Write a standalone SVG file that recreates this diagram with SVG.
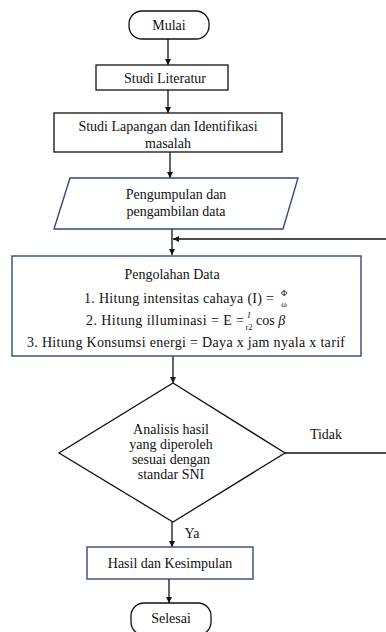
<svg xmlns="http://www.w3.org/2000/svg" width="386" height="632" viewBox="0 0 386 632">
<style>
text{font-family:"Liberation Serif","DejaVu Serif",serif;font-size:14px;fill:#111;text-anchor:middle}
.blk{fill:#fff;stroke:#111;stroke-width:1.3}
.blu{fill:#fff;stroke:#34497A;stroke-width:1.4}
.ln{fill:none;stroke:#111;stroke-width:1.3}
text.sm{font-size:8.5px;fill:#111}
.it{font-style:italic}
text.end{text-anchor:end}
text.st{text-anchor:start}
</style>
<defs>
<marker id="ah" viewBox="0 0 10 10" refX="10" refY="5" markerWidth="6" markerHeight="6" markerUnits="userSpaceOnUse" orient="auto">
<path d="M0,0 L10,5 L0,10 z" fill="#111"/>
</marker>
</defs>
<rect width="386" height="632" fill="#fff"/>
<g id="connectors">
<line class="ln" x1="168" y1="39" x2="168" y2="65" marker-end="url(#ah)"/>
<line class="ln" x1="168" y1="90" x2="168" y2="113" marker-end="url(#ah)"/>
<line class="ln" x1="170" y1="152" x2="170" y2="178" marker-end="url(#ah)"/>
<line class="ln" x1="172" y1="229" x2="172" y2="255" marker-end="url(#ah)"/>
<line class="ln" x1="386" y1="239" x2="173" y2="239" marker-end="url(#ah)"/>
<line class="ln" x1="173" y1="356" x2="173" y2="383" marker-end="url(#ah)"/>
<line class="ln" x1="285" y1="453" x2="386" y2="453"/>
<line class="ln" x1="172" y1="522" x2="172" y2="547" marker-end="url(#ah)"/>
<line class="ln" x1="169" y1="579" x2="169" y2="603" marker-end="url(#ah)"/>
<text x="326" y="439">Tidak</text>
<text x="192" y="538">Ya</text>
</g>
<g id="mulai">
<rect class="blk" x="129" y="11" width="80" height="28" rx="13"/>
<text x="169" y="30">Mulai</text>
</g>
<g id="studi-literatur">
<rect class="blk" x="96" y="65" width="132" height="25"/>
<text x="165" y="82.5">Studi Literatur</text>
</g>
<g id="studi-lapangan">
<rect class="blk" x="54" y="113" width="228" height="39"/>
<text x="168" y="130.5">Studi Lapangan dan Identifikasi</text>
<text x="168" y="147.5">masalah</text>
</g>
<g id="pengumpulan">
<polygon class="blu" points="70,178 298,178 283,229 54,229"/>
<text x="176" y="198.5">Pengumpulan dan</text>
<text x="176" y="215.5">pengambilan data</text>
</g>
<g id="pengolahan">
<rect class="blu" x="12" y="256" width="349" height="100"/>
<text x="172" y="279">Pengolahan Data</text>
<text class="end" x="274" y="303" textLength="190" lengthAdjust="spacing">1.  Hitung intensitas cahaya (I) =</text>
<text class="sm" x="284" y="296">Φ</text>
<text class="sm" x="284" y="307">ω</text>
<text class="end" x="244" y="325" textLength="158" lengthAdjust="spacing">2.  Hitung illuminasi = E =</text>
<text class="sm it" x="249" y="318">I</text>
<text class="sm" x="249" y="330">r2</text>
<text class="st" x="256" y="325">cos <tspan class="it">β</tspan></text>
<text x="186" y="347" textLength="318" lengthAdjust="spacing">3.  Hitung Konsumsi energi = Daya x jam nyala x tarif</text>
</g>
<g id="analisis">
<polygon class="blk" points="173,383 285,453 173,522 59,453"/>
<text x="171" y="434">Analisis hasil</text>
<text x="171" y="449">yang diperoleh</text>
<text x="171" y="464">sesuai dengan</text>
<text x="171" y="479">standar SNI</text>
</g>
<g id="hasil">
<rect class="blu" x="87" y="547" width="166" height="32"/>
<text x="170" y="567.5">Hasil dan Kesimpulan</text>
</g>
<g id="selesai">
<rect class="blk" x="131" y="603" width="80" height="32" rx="13"/>
<text x="171" y="622.5">Selesai</text>
</g>
</svg>
